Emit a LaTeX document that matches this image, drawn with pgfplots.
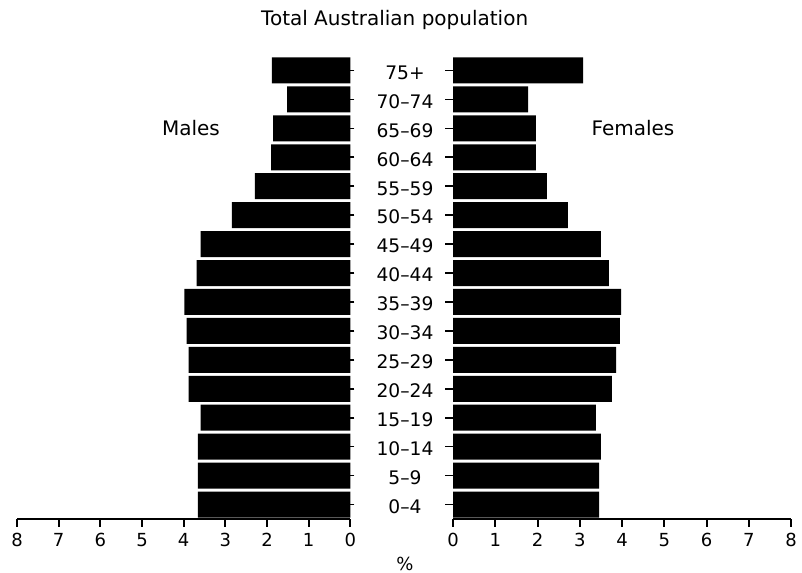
\documentclass[border=0pt]{standalone}
\usepackage{fontspec}
\setmainfont{DejaVu Sans}
\usepackage{pgfplots}
\pgfplotsset{compat=1.18}

% male and female shares (%), row 0 = 0-4 ... row 15 = 75+
\pgfplotstableread{
row male female
0  3.66 3.46
1  3.66 3.46
2  3.66 3.50
3  3.59 3.38
4  3.88 3.76
5  3.88 3.86
6  3.93 3.95
7  3.98 3.98
8  3.69 3.69
9  3.59 3.50
10 2.84 2.72
11 2.29 2.22
12 1.90 1.96
13 1.85 1.96
14 1.52 1.78
15 1.88 3.08
}\pop

\pgfplotsset{
  pyramid/.style={
    scale only axis,
    width=250pt, height=347.25pt,
    xmin=0, xmax=8, ymin=-0.5, ymax=15.5,
    xtick={0,...,8}, ytick={0,...,15},
    axis x line=bottom,
    axis line style={-, line width=1.5pt},
    y axis line style={draw=none},
    tick align=outside,
    x tick style={draw=black, line width=1.5pt},
    y tick style={draw=black, line width=1.2pt},
    major tick length=6pt,
    /pgf/number format/assume math mode=true,
    xticklabel style={font=\fontsize{13.5}{16}\selectfont, yshift=-1pt},
    xbar, bar width=0.9,
  },
}

\begin{document}
\begin{tikzpicture}
\useasboundingbox (0,0) rectangle (601.5pt,429.75pt);

\begin{axis}[pyramid, at={(12.75pt,40.5pt)}, anchor=south west,
  x dir=reverse, axis y line=right, yticklabels={}]
  \addplot[fill=black, draw=none] table[x=male, y=row] {\pop};
\end{axis}

\begin{axis}[pyramid, at={(339.75pt,40.5pt)}, anchor=south west,
  width=253.5pt, axis y line=left, ytick align=outside,
  y tick style={draw=black, line width=1.2pt},
  yticklabels={0--4,5--9,10--14,15--19,20--24,25--29,30--34,35--39,40--44,45--49,50--54,55--59,60--64,65--69,70--74,75+},
  yticklabel style={anchor=center, xshift=-30pt, yshift=-1.5pt,
    font=\fontsize{14}{16}\selectfont}]
  \addplot[fill=black, draw=none] table[x=female, y=row] {\pop};
\end{axis}

\node[font=\fontsize{15}{18}\selectfont] at (296pt,415pt) {Total Australian population};
\node[font=\fontsize{15}{18}\selectfont] at (143.25pt,333.75pt) {Males};
\node[font=\fontsize{15}{18}\selectfont] at (474.75pt,333.75pt) {Females};
\node[font=\fontsize{13.5}{16}\selectfont] at (303.75pt,7pt) {\%};
\end{tikzpicture}
\end{document}
